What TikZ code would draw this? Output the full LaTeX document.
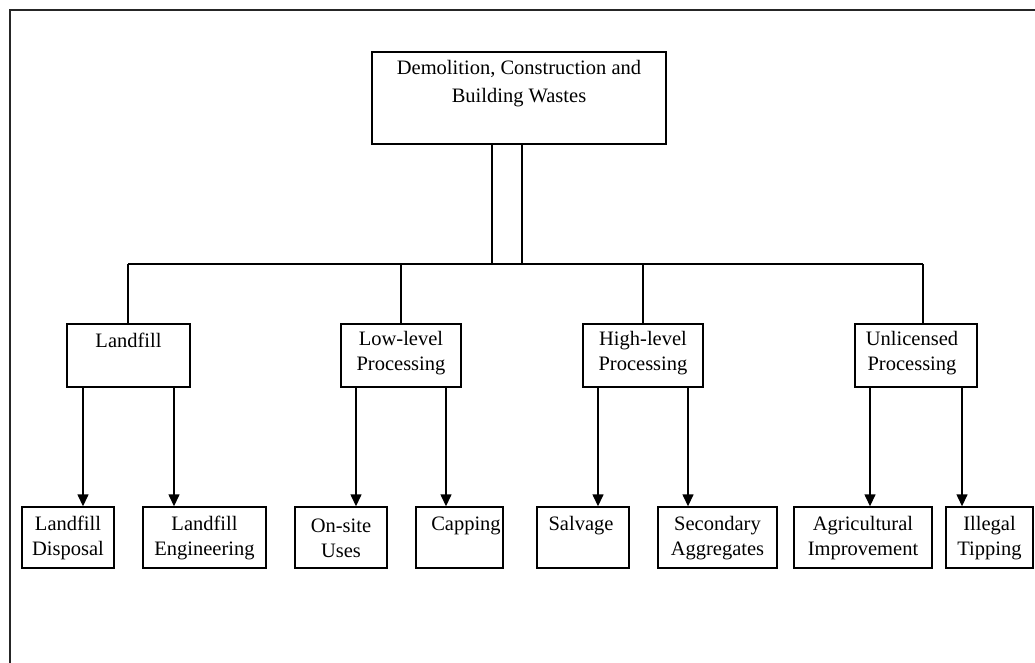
\documentclass[tikz,border=0pt]{standalone}
\usepackage{fontspec}
\setmainfont{Liberation Serif}
\usetikzlibrary{arrows.meta}
\begin{document}
\begin{tikzpicture}[x=1pt,y=-1pt,
  box/.style={draw, line width=1.4pt, inner sep=0pt},
  txt/.style={align=center, font=\fontsize{20.5}{25}\selectfont, inner sep=0pt},
  conn/.style={line width=1.4pt},
  arr/.style={line width=1.4pt, -{Triangle[width=11pt,length=12pt]}},
  frame/.style={line width=2.5pt, black!85}]
\useasboundingbox (0,0) rectangle (1035,663);
% frame (only top and left edges visible)
\coordinate (fTR) at (1035,10);
\coordinate (fTL) at (10,10);
\coordinate (fBL) at (10,663);
\draw[frame] (fTR) -- (fTL) -- (fBL);

% top box
\node[box, minimum width=294pt, minimum height=92pt] (top) at (519,98) {};
\node[txt, font=\fontsize{20.5}{28}\selectfont] (topT) at (519,84) {Demolition, Construction and\\Building Wastes};

% level 2 boxes
\node[box, minimum width=123pt, minimum height=63pt] (lf) at (128.5,355.5) {};
\node[txt] (lfT) at (128.5,340) {Landfill};
\node[box, minimum width=120pt, minimum height=63pt] (ll) at (401,355.5) {};
\node[txt] (llT) at (401,353) {Low-level\\Processing};
\node[box, minimum width=120pt, minimum height=63pt] (hl) at (643,355.5) {};
\node[txt] (hlT) at (643,353) {High-level\\Processing};
\node[box, minimum width=122pt, minimum height=63pt] (ul) at (916,355.5) {};
\node[txt] (ulT) at (912,353) {Unlicensed\\Processing};

% level 3 boxes
\node[box, minimum width=92pt, minimum height=61pt] (ld) at (68,537.5) {};
\node[txt] (ldT) at (68,538) {Landfill\\Disposal};
\node[box, minimum width=123pt, minimum height=61pt] (le) at (204.5,537.5) {};
\node[txt] (leT) at (204.5,538) {Landfill\\Engineering};
\node[box, minimum width=92pt, minimum height=61pt] (os) at (341,537.5) {};
\node[txt] (osT) at (341,538) {On-site\\Uses};
\node[box, minimum width=87pt, minimum height=61pt] (cp) at (459.5,537.5) {};
\node[txt] (cpT) at (466,526) {Capping};
\node[box, minimum width=92pt, minimum height=61pt] (sv) at (583,537.5) {};
\node[txt] (svT) at (581,526) {Salvage};
\node[box, minimum width=119pt, minimum height=61pt] (sa) at (717.5,537.5) {};
\node[txt] (saT) at (717.5,538) {Secondary\\Aggregates};
\node[box, minimum width=138pt, minimum height=61pt] (ai) at (863,537.5) {};
\node[txt] (aiT) at (863,538) {Agricultural\\Improvement};
\node[box, minimum width=87pt, minimum height=61pt] (it) at (989.5,537.5) {};
\node[txt] (itT) at (989.5,538) {Illegal\\Tipping};

% double stem and bus
\coordinate (dL) at (492,264);
\coordinate (dR) at (522,264);
\draw[conn] (top.south -| dL) -- (dL);
\draw[conn] (top.south -| dR) -- (dR);
\coordinate (busL) at (128,264);
\coordinate (busR) at (923,264);
\coordinate (b3) at (643,264);
\draw[conn] (busL) -- (busR);
\draw[conn] (busL) -- (lf.north -| busL);
\draw[conn] (ll.north |- busL) -- (ll.north);
\draw[conn] (b3) -- (hl.north -| b3);
\draw[conn] (busR) -- (ul.north -| busR);

% arrows
\coordinate (a1) at (83,0);
\coordinate (a2) at (174,0);
\coordinate (a3) at (356,0);
\coordinate (a4) at (446,0);
\coordinate (a5) at (598,0);
\coordinate (a6) at (688,0);
\coordinate (a7) at (870,0);
\coordinate (a8) at (962,0);
\draw[arr] (lf.south -| a1) -- (ld.north -| a1);
\draw[arr] (lf.south -| a2) -- (le.north -| a2);
\draw[arr] (ll.south -| a3) -- (os.north -| a3);
\draw[arr] (ll.south -| a4) -- (cp.north -| a4);
\draw[arr] (hl.south -| a5) -- (sv.north -| a5);
\draw[arr] (hl.south -| a6) -- (sa.north -| a6);
\draw[arr] (ul.south -| a7) -- (ai.north -| a7);
\draw[arr] (ul.south -| a8) -- (it.north -| a8);
\end{tikzpicture}
\end{document}
